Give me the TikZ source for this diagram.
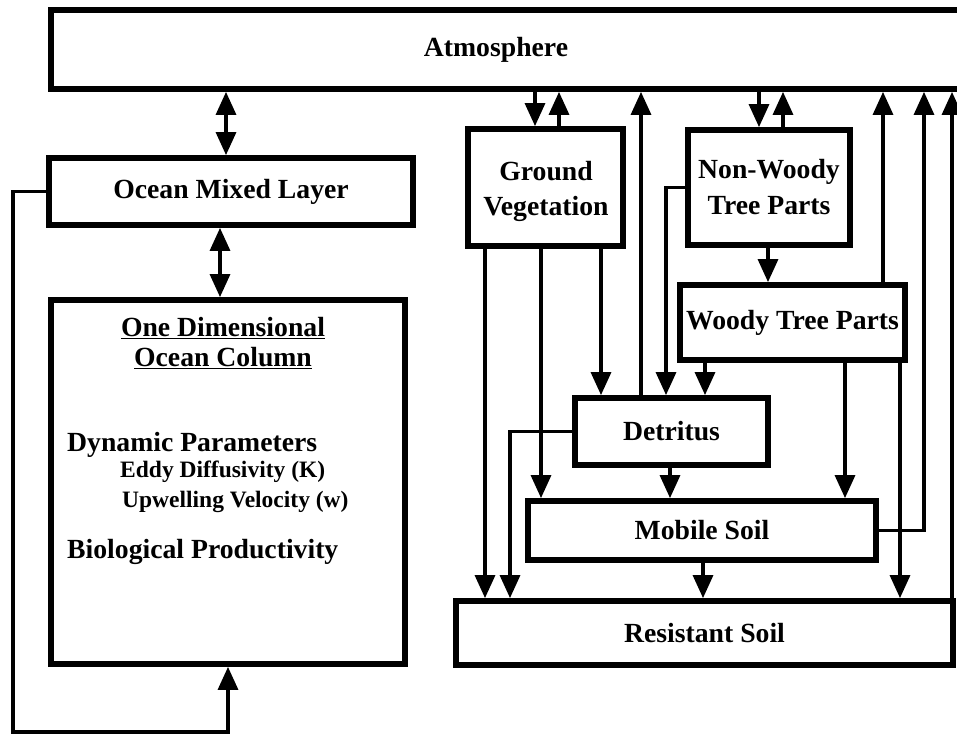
\documentclass[tikz,border=0pt]{standalone}
\usepackage{fontspec}
\setmainfont{Liberation Serif}
\usetikzlibrary{arrows.meta}
\begin{document}
\begin{tikzpicture}[x=1pt,y=-1pt,
  box/.style={draw, line width=5.8pt, inner sep=0pt, rectangle, align=center,
    font=\fontsize{27.7}{36}\selectfont\bfseries},
  lbl/.style={font=\fontsize{27.7}{32}\selectfont\bfseries, align=center, inner sep=0pt},
  smalllbl/.style={font=\fontsize{23.5}{27}\selectfont\bfseries, inner sep=0pt, anchor=west},
  conn/.style={line width=3.3pt},
  arr/.style={conn, -{Triangle[length=23pt,width=20pt]}},
  darr/.style={conn, {Triangle[length=23pt,width=20pt]}-{Triangle[length=23pt,width=20pt]}}]
\useasboundingbox (0,0) rectangle (957,735);
\clip (0,0) rectangle (957,735);

% boxes
\node[box, minimum width=924, minimum height=79] (atm) at (513,49.5) {};
\node[lbl] (atmlabel) at (496,50) {Atmosphere};
\node[box, minimum width=364, minimum height=67] (oml) at (231,191.5) {Ocean Mixed Layer};
\node[box, minimum width=354, minimum height=364] (oc) at (228,482) {};
\node[box, minimum width=155, minimum height=117] (gv) at (545.5,187.5) {};
\node[lbl] (gvlabel) at (546,191) {Ground\\[3pt]Vegetation};
\node[box, minimum width=162, minimum height=115] (nw) at (769,187.5) {Non-Woody\\Tree Parts};
\node[box, minimum width=225, minimum height=75] (wood) at (792.5,322.5) {Woody Tree Parts};
\node[box, minimum width=193, minimum height=67] (det) at (671.5,431.5) {Detritus};
\node[box, minimum width=348, minimum height=59] (mob) at (702,530.5) {Mobile Soil};
\node[box, minimum width=497, minimum height=64] (res) at (704.5,633) {Resistant Soil};

% ocean column texts
\node[lbl] (oc1) at (223,328) {\underline{One Dimensional}};
\node[lbl] (oc2) at (223,358) {\underline{Ocean Column}};
\node[lbl, anchor=west] (dyn) at (67,445) {Dynamic Parameters};
\node[smalllbl] (eddy) at (120,472) {Eddy Diffusivity (K)};
\node[smalllbl] (upw) at (122,502) {Upwelling Velocity (w)};
\node[lbl, anchor=west] (bio) at (67,552) {Biological Productivity};

% ocean side connectors
\draw[darr] (226,0 |- atm.south) -- (226,0 |- oml.north);
\draw[darr] (220,0 |- oml.south) -- (220,0 |- oc.north);
\coordinate (lp) at (13,732);
\draw[arr] (oml.west) -| (lp) -| (oc.south);

% atmosphere <-> vegetation
\draw[arr] (535,0 |- atm.south) -- (535,0 |- gv.north);
\draw[arr] (559,0 |- gv.north) -- (559,0 |- atm.south);
\draw[arr] (759,0 |- atm.south) -- (759,0 |- nw.north);
\draw[arr] (783,0 |- nw.north) -- (783,0 |- atm.south);
\draw[arr] (641,0 |- det.north) -- (641,0 |- atm.south);
\draw[arr] (883,0 |- wood.north) -- (883,0 |- atm.south);
\draw[arr] (mob.east) -| (924,0 |- atm.south);
\draw[arr] (952,0 |- res.north) -- (952,0 |- atm.south);

% ground vegetation outputs
\draw[arr] (485,0 |- gv.south) -- (485,0 |- res.north);
\draw[arr] (541,0 |- gv.south) -- (541,0 |- mob.north);
\draw[arr] (601,0 |- gv.south) -- (601,0 |- det.north);

% tree parts
\draw[arr] (768,0 |- nw.south) -- (768,0 |- wood.north);
\draw[arr] (nw.west) -| (666,0 |- det.north);
\draw[arr] (705,0 |- wood.south) -- (705,0 |- det.north);
\draw[arr] (845,0 |- wood.south) -- (845,0 |- mob.north);
\draw[arr] (900,0 |- wood.south) -- (900,0 |- res.north);

% detritus and soils
\draw[arr] (det.west) -| (510,0 |- res.north);
\draw[arr] (670,0 |- det.south) -- (670,0 |- mob.north);
\draw[arr] (703,0 |- mob.south) -- (703,0 |- res.north);
\end{tikzpicture}
\end{document}
